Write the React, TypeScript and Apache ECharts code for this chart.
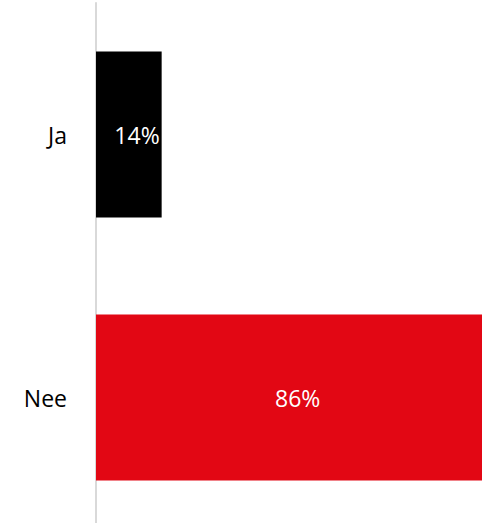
import React, { useEffect, useRef } from "react";
import * as echarts from "echarts";

const categories = ["Ja", "Nee"];
const values = [0.14, 0.86];
const colors = ["#000000", "#E20714"];
const labelPositions = ["insideRight", "inside"];

const FONT = "'Open Sans', sans-serif";

export default function App() {
  const ref = useRef<HTMLDivElement>(null);
  useEffect(() => {
    document.body.style.margin = "0";
    document.body.style.overflow = "hidden";
    const chart = echarts.init(ref.current!, null, { renderer: "svg" });
    chart.setOption({
      animation: false,
      grid: { left: 96, top: 3, right: 0, bottom: 0, containLabel: false },
      xAxis: {
        type: "value",
        min: 0,
        max: 1,
        show: false,
      },
      yAxis: {
        type: "category",
        data: categories,
        inverse: true,
        axisLine: { show: true, lineStyle: { color: "#d9d9d9", width: 2 } },
        axisTick: { show: false },
        axisLabel: {
          margin: 29,
          fontSize: 23,
          color: "#000",
          fontFamily: FONT,
        },
      },
      series: [
        {
          type: "bar",
          barWidth: 166,
          data: values.map((v, i) => ({
            value: v,
            itemStyle: { color: colors[i] },
            label: { position: labelPositions[i], distance: 2 },
          })),
          label: {
            show: true,
            color: "#fff",
            fontSize: 23,
            fontFamily: FONT,
            formatter: (p: any) => Math.round(p.value * 100) + "%",
          },
        },
      ],
    });
    return () => chart.dispose();
  }, []);
  return <div ref={ref} style={{ width: 565, height: 529 }} />;
}
